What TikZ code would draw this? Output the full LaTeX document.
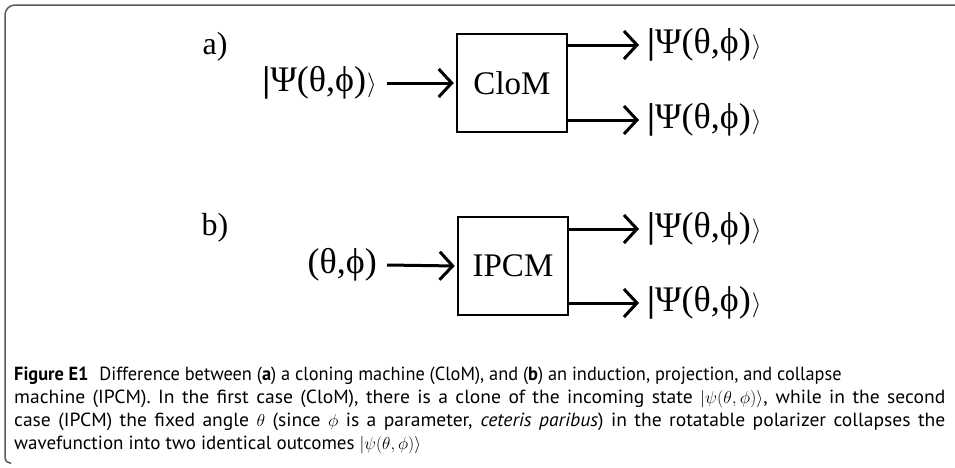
\documentclass[tikz,border=0pt]{standalone}
\usepackage{fontspec}
\usepackage{graphicx}
\setmainfont{Liberation Serif}
\newfontfamily\capfont{PT Sans}
\usetikzlibrary{arrows.meta}
\newcommand{\dket}{\textbf{|}Ψ(θ,ϕ)\kern1pt$\rangle$}
\begin{document}
\begin{tikzpicture}[x=1pt,y=-1pt,
  dtext/.style={font=\fontsize{32}{36}\selectfont, inner sep=0pt},
  kettext/.style={font=\fontsize{36}{40}\selectfont, inner sep=0pt},
  machine/.style={draw, line width=2.5pt, minimum width=110pt, minimum height=98pt, inner sep=0pt, font=\fontsize{33}{36}\selectfont},
  flow/.style={line width=3pt, -{Straight Barb[length=13pt,width=28pt]}},
  captext/.style={font=\capfont\fontsize{19}{23}\selectfont, anchor=base west, inner sep=0pt, text height=13pt, text depth=3pt},
  frameline/.style={draw=black!65, line width=1.5pt}]
\useasboundingbox (0,0) rectangle (955,467);
% frame
\draw[frameline] (11,463) [rounded corners=5pt] -- (5,463) [rounded corners=10pt] -- (5,5) -- (956,5);
% part a
\node[dtext] (la) at (215,47) {a)};
\node[machine] (boxa) at (512,83) {CloM};
\node[kettext, anchor=east] (ina) at (377,83) {\dket};
\node[kettext, anchor=west] (oa1) at (647,45) {\dket};
\node[kettext, anchor=west] (oa2) at (647,120) {\dket};
\draw[flow, shorten >=2pt] ([xshift=10pt]ina.east) -- (boxa.west);
\draw[flow] (boxa.east |- oa1.west) -- ([xshift=-8pt]oa1.west);
\draw[flow] (boxa.east |- oa2.west) -- ([xshift=-8pt]oa2.west);
% part b
\node[dtext] (lb) at (215,228) {b)};
\node[machine] (boxb) at (513,266) {IPCM};
\node[kettext, anchor=east] (inb) at (377,265) {(θ,ϕ)};
\node[kettext, anchor=west] (ob1) at (647,229) {\dket};
\node[kettext, anchor=west] (ob2) at (647,303) {\dket};
\draw[flow, shorten >=2pt] ([xshift=10pt]inb.east) -- (boxb.west);
\draw[flow] (boxb.east |- ob1.west) -- ([xshift=-8pt]ob1.west);
\draw[flow] (boxb.east |- ob2.west) -- ([xshift=-8pt]ob2.west);
% caption
\node[captext] (cap1) at (14,380) {\scalebox{0.965}[1]{{\bfseries Figure E1}\hspace{0.6em}Difference between ({\bfseries a}) a cloning machine (CloM), and ({\bfseries b}) an induction, projection, and collapse}};
\node[captext] (cap2) at (14,403) {\scalebox{1.03}[1]{\makebox[904pt][s]{machine (IPCM). In the first case (CloM), there is a clone of the incoming state $|\psi(\theta,\phi)\rangle$, while in the second}}};
\node[captext] (cap3) at (14,426) {\scalebox{1.03}[1]{\makebox[904pt][s]{case (IPCM) the fixed angle $\theta$ (since $\phi$ is a parameter, \emph{ceteris paribus}) in the rotatable polarizer collapses the}}};
\node[captext] (cap4) at (14,449) {wavefunction into two identical outcomes $|\psi(\theta,\phi)\rangle$};
\end{tikzpicture}
\end{document}
